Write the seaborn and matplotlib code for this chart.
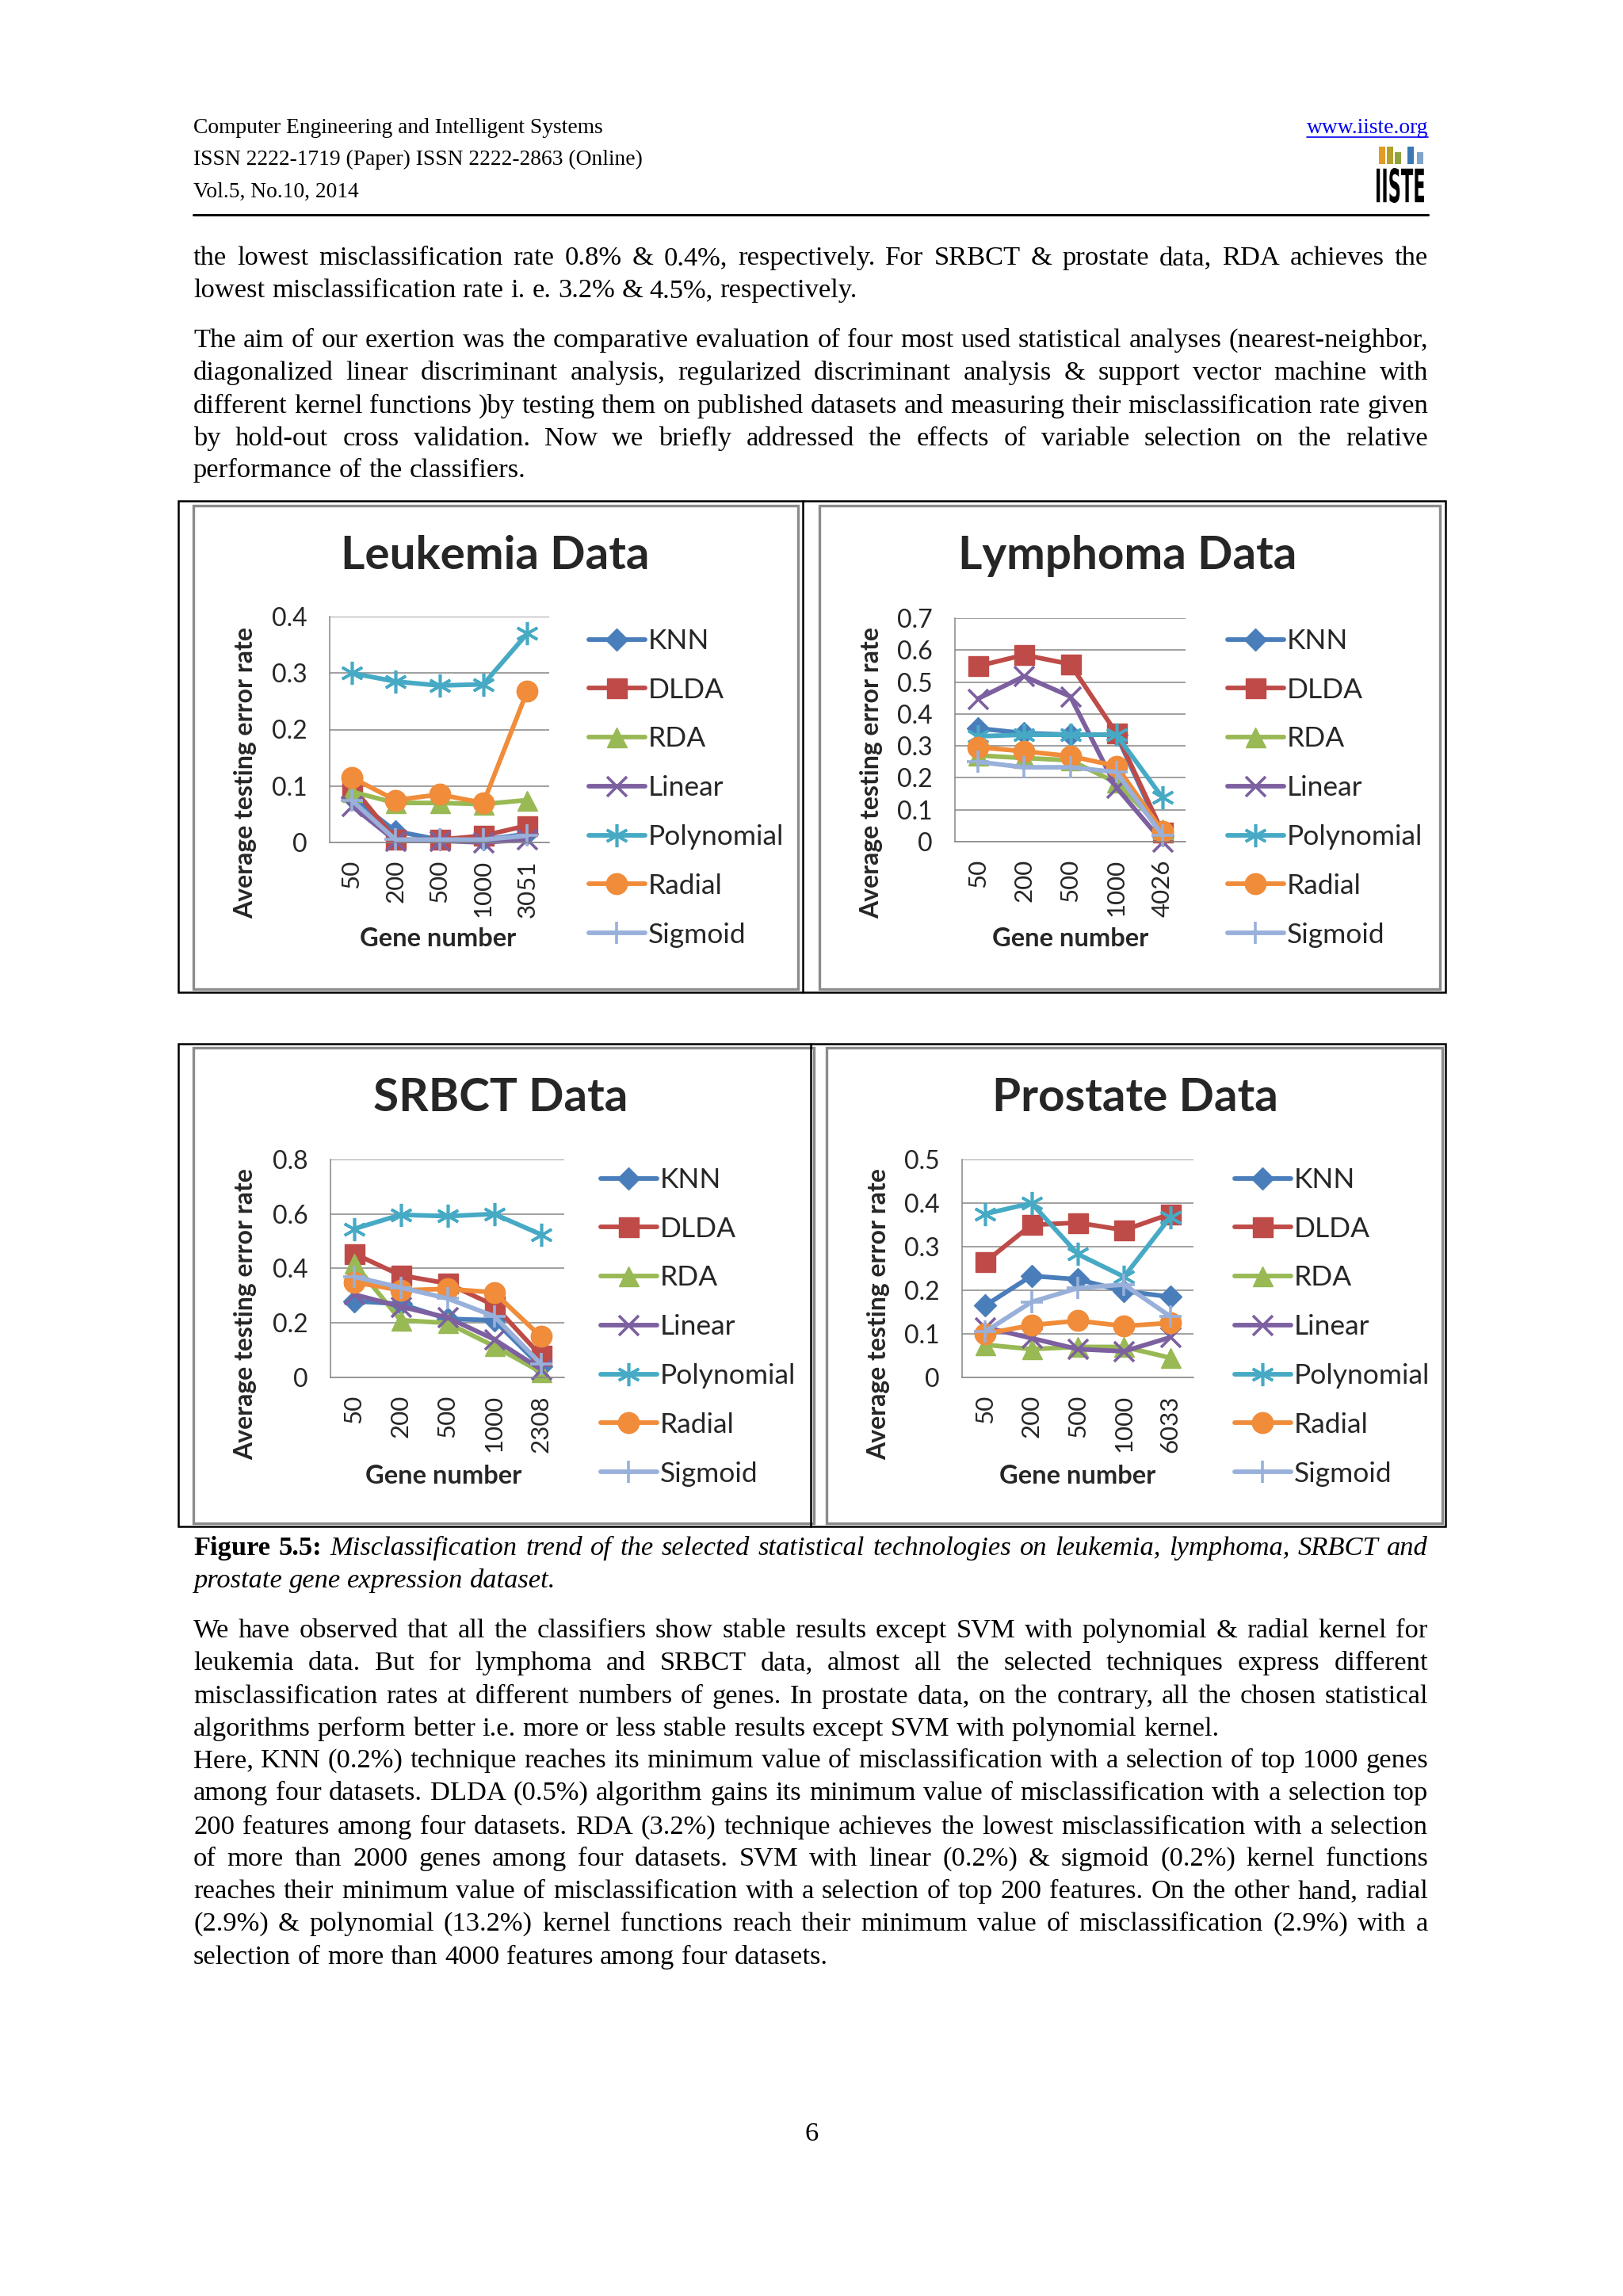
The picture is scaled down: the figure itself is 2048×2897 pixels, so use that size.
import numpy as np
import pandas as pd
import seaborn as sns
import matplotlib.pyplot as plt
from matplotlib.lines import Line2D
from matplotlib.patches import Rectangle, PathPatch
from matplotlib.textpath import TextPath
from matplotlib.font_manager import FontProperties
from matplotlib.transforms import Affine2D

sns.set_style("white")
plt.rcParams['font.family'] = ['Lato', 'DejaVu Sans']

W, H = 2048, 2897

# ---------------- data ----------------
methods = ['KNN', 'DLDA', 'RDA', 'Linear', 'Polynomial', 'Radial', 'Sigmoid']

genes_leukemia = ['50', '200', '500', '1000', '3051']
genes_lymphoma = ['50', '200', '500', '1000', '4026']
genes_srbct = ['50', '200', '500', '1000', '2308']
genes_prostate = ['50', '200', '500', '1000', '6033']

leukemia = {
    'KNN': [0.08, 0.02, 0.005, 0.005, 0.015],
    'DLDA': [0.10, 0.005, 0.005, 0.012, 0.03],
    'RDA': [0.09, 0.07, 0.07, 0.068, 0.075],
    'Linear': [0.065, 0.003, 0.003, 0.0, 0.005],
    'Polynomial': [0.30, 0.285, 0.278, 0.28, 0.37],
    'Radial': [0.115, 0.075, 0.085, 0.07, 0.268],
    'Sigmoid': [0.075, 0.005, 0.005, 0.005, 0.012],
}
lymphoma = {
    'KNN': [0.355, 0.34, 0.335, 0.335, 0.02],
    'DLDA': [0.55, 0.585, 0.556, 0.34, 0.03],
    'RDA': [0.27, 0.262, 0.255, 0.185, 0.04],
    'Linear': [0.448, 0.518, 0.455, 0.17, 0.0],
    'Polynomial': [0.33, 0.335, 0.335, 0.335, 0.138],
    'Radial': [0.296, 0.283, 0.268, 0.237, 0.033],
    'Sigmoid': [0.25, 0.233, 0.233, 0.218, 0.02],
}
srbct = {
    'KNN': [0.28, 0.27, 0.215, 0.21, 0.04],
    'DLDA': [0.455, 0.375, 0.345, 0.265, 0.08],
    'RDA': [0.42, 0.21, 0.2, 0.115, 0.02],
    'Linear': [0.305, 0.26, 0.22, 0.14, 0.03],
    'Polynomial': [0.545, 0.597, 0.592, 0.6, 0.525],
    'Radial': [0.35, 0.32, 0.325, 0.312, 0.15],
    'Sigmoid': [0.37, 0.33, 0.29, 0.225, 0.05],
}
prostate = {
    'KNN': [0.165, 0.233, 0.225, 0.198, 0.185],
    'DLDA': [0.265, 0.35, 0.355, 0.338, 0.375],
    'RDA': [0.075, 0.065, 0.07, 0.07, 0.045],
    'Linear': [0.115, 0.09, 0.065, 0.06, 0.092],
    'Polynomial': [0.375, 0.4, 0.283, 0.231, 0.368],
    'Radial': [0.1, 0.12, 0.13, 0.118, 0.125],
    'Sigmoid': [0.105, 0.173, 0.205, 0.213, 0.14],
}

colors = {'KNN': '#4A7EBB', 'DLDA': '#BE4B48', 'RDA': '#98B954', 'Linear': '#7D60A0',
          'Polynomial': '#46AAC5', 'Radial': '#F08C3A', 'Sigmoid': '#98B0DA'}
markers = {'KNN': 'D', 'DLDA': 's', 'RDA': '^', 'Linear': 'x',
           'Polynomial': (6, 2, 0), 'Radial': 'o', 'Sigmoid': '+'}
msizes = {'KNN': 14, 'DLDA': 18, 'RDA': 18, 'Linear': 18,
          'Polynomial': 21, 'Radial': 19, 'Sigmoid': 20}
filled = ('KNN', 'DLDA', 'RDA', 'Radial')

# page text
header_lines = ["Computer Engineering and Intelligent Systems",
                "ISSN 2222-1719 (Paper) ISSN 2222-2863 (Online)",
                "Vol.5, No.10, 2014"]
para1 = ["the lowest misclassification rate 0.8% & 0.4%, respectively. For SRBCT & prostate data, RDA achieves the",
         "lowest misclassification rate i. e. 3.2% & 4.5%, respectively."]
para2 = ["The aim of our exertion was the comparative evaluation of four most used statistical analyses (nearest-neighbor,",
         "diagonalized linear discriminant analysis, regularized discriminant analysis & support vector machine with",
         "different kernel functions )by testing them on published datasets and measuring their misclassification rate given",
         "by hold-out cross validation. Now we briefly addressed the effects of variable selection on the relative",
         "performance of the classifiers."]
caption = ["Misclassification trend of the selected statistical technologies on leukemia, lymphoma, SRBCT and",
           "prostate gene expression dataset."]
para3 = ["We have observed that all the classifiers show stable results except SVM with polynomial & radial kernel for",
         "leukemia data. But for lymphoma and SRBCT data, almost all the selected techniques express different",
         "misclassification rates at different numbers of genes. In prostate data, on the contrary, all the chosen statistical",
         "algorithms perform better i.e. more or less stable results except SVM with polynomial kernel.",
         "Here, KNN (0.2%) technique reaches its minimum value of misclassification with a selection of top 1000 genes",
         "among four datasets. DLDA (0.5%) algorithm gains its minimum value of misclassification with a selection top",
         "200 features among four datasets. RDA (3.2%) technique achieves the lowest misclassification with a selection",
         "of more than 2000 genes among four datasets. SVM with linear (0.2%) & sigmoid (0.2%) kernel functions",
         "reaches their minimum value of misclassification with a selection of top 200 features. On the other hand, radial",
         "(2.9%) & polynomial (13.2%) kernel functions reach their minimum value of misclassification (2.9%) with a",
         "selection of more than 4000 features among four datasets."]

# ---------------- figure ----------------
fig = plt.figure(figsize=(W / 100, H / 100), dpi=100)
fig.patch.set_facecolor('white')
bg = fig.add_axes([0, 0, 1, 1], zorder=0)
bg.set_xlim(0, W)
bg.set_ylim(H, 0)
bg.axis('off')
renderer = fig.canvas.get_renderer()


def px_rect(x0, y0, x1, y1):
    return [x0 / W, 1 - y1 / H, (x1 - x0) / W, (y1 - y0) / H]


BODY = 24.8
serif = dict(family='Liberation Serif', fontsize=BODY, color='black')
LEFT, RIGHT = 244, 1802


def width_of(s, style):
    t = bg.text(0, 0, s, **style)
    w = t.get_window_extent(renderer).width
    t.remove()
    return w


def put_line(words, y, justify):
    # words: list of (text, style)
    arts = [bg.text(0, y + 11, w, va='baseline', ha='left', **st) for w, st in words]
    widths = [a.get_window_extent(renderer).width for a in arts]
    st = words[0][1]
    space = width_of('a a', st) - width_of('aa', st)
    gap = space
    if justify and len(arts) > 1:
        gap = max(space * 0.6, (RIGHT - LEFT - sum(widths)) / (len(arts) - 1))
    x = LEFT
    for a, w in zip(arts, widths):
        a.set_x(x)
        x += w + gap


def put_para(lines, ys, no_justify=()):
    for i, (line, y) in enumerate(zip(lines, ys)):
        put_line([(w, serif) for w in line.split()], y, i not in no_justify and i != len(lines) - 1)


# header
hdr = dict(family='Liberation Serif', fontsize=19.8, color='black')
for line, y in zip(header_lines, [161, 201, 242]):
    bg.text(LEFT, y, line, va='center', ha='left', **hdr)
lnk = bg.text(RIGHT, 161, 'www.iiste.org', va='center', ha='right',
              family='Liberation Serif', fontsize=19.8, color='#0000EE')
lw_ = lnk.get_window_extent(renderer).width
bg.plot([RIGHT - lw_, RIGHT], [173, 173], color='#0000EE', lw=1.2)
bg.plot([LEFT, RIGHT], [271, 271], color='black', lw=2.2)
# logo
for x0, c, h in [(1740, '#E39B25', 22), (1750, '#B3A12C', 22), (1760, '#8EA33C', 15),
                 (1776, '#3C78B4', 22), (1788, '#7FA3C9', 15)]:
    bg.add_patch(Rectangle((x0, 207 - h), 8, h, color=c, lw=0))
tp = TextPath((0, 0), 'IISTE', size=30, prop=FontProperties(family='Liberation Sans Narrow', weight='bold'))
ext = tp.get_extents()
tr = Affine2D().translate(-ext.x0, -ext.y0).scale(60 / ext.width, -44 / ext.height).translate(1737, 256)
bg.add_patch(PathPatch(tr.transform_path(tp), color='black', lw=0))

put_para(para1, [323, 364])
put_para(para2, [427, 468, 510, 551, 591])

cap_b = dict(family='Liberation Serif', fontsize=BODY, fontweight='bold', color='black')
cap_i = dict(family='Liberation Serif', fontsize=BODY, fontstyle='italic', color='black')
put_line([('Figure', cap_b), ('5.5:', cap_b)] + [(w, cap_i) for w in caption[0].split()], 1951, True)
put_line([(w, cap_i) for w in caption[1].split()], 1992, False)

put_para(para3, [2055, 2096, 2138, 2179, 2219, 2260, 2303, 2343, 2384, 2425, 2467], no_justify=(3,))
bg.text(1024, 2693, '6', ha='center', va='center', **serif)

# table frames
for (x0, y0, x1, y1, xd) in [(225, 632, 1824, 1252, 1013), (225, 1317, 1824, 1926, 1023)]:
    bg.add_patch(Rectangle((x0, y0), x1 - x0, y1 - y0, fill=False, ec='black', lw=1.8))
    bg.plot([xd, xd], [y0, y1], color='black', lw=1.8)
for (x0, y0, x1, y1) in [(244, 638, 1007, 1248), (1034, 638, 1817, 1248),
                         (244, 1322, 1027, 1922), (1043, 1322, 1820, 1922)]:
    bg.add_patch(Rectangle((x0, y0), x1 - x0, y1 - y0, fill=False, ec='#8C8C8C', lw=2.4))


def draw_chart(title, title_xy, rect, genes, values, ymax, ystep, ylab_xy, xlab_xy, leg_xy):
    ax = fig.add_axes(px_rect(*rect), zorder=2)
    ax.patch.set_alpha(0)
    for m in methods:
        sns.lineplot(x=genes, y=values[m], ax=ax, color=colors[m], linewidth=4.2,
                     marker=markers[m], markersize=msizes[m], markeredgecolor=colors[m],
                     markeredgewidth=1 if m in filled else 2.6, clip_on=False, sort=False)
    ax.set_xlim(-0.5, len(genes) - 0.5)
    ax.set_ylim(0, ymax)
    ticks = np.round(np.arange(0, ymax + 1e-9, ystep), 2)
    ax.set_yticks(ticks)
    ax.set_yticklabels([f'{t:g}' for t in ticks])
    ax.yaxis.grid(True, color='#868686', lw=1.1)
    ax.xaxis.grid(False)
    ax.set_axisbelow(True)
    for s in ('top', 'right'):
        ax.spines[s].set_visible(False)
    for s in ('left', 'bottom'):
        ax.spines[s].set_color('#868686')
        ax.spines[s].set_linewidth(1.1)
    ax.tick_params(axis='y', length=8.6, width=1.1, color='#868686', pad=12, labelsize=23)
    ax.tick_params(axis='x', length=0, pad=16, labelsize=22.5, rotation=90)
    for lb in ax.get_xticklabels():
        lb.set_va('top')
    ax.set_xlabel('')
    ax.set_ylabel('')

    bg.text(*title_xy, title, ha='center', va='center', fontsize=42, fontweight='bold')
    bg.text(*ylab_xy, 'Average testing error rate', rotation=90, ha='center', va='center',
            fontsize=23, fontweight='bold')
    bg.text(*xlab_xy, 'Gene number', ha='center', va='center', fontsize=23.5, fontweight='bold')

    handles = [Line2D([], [], color=colors[m], lw=4.2, marker=markers[m], markersize=msizes[m],
                      markeredgecolor=colors[m], markeredgewidth=1 if m in filled else 2.6)
               for m in methods]
    ax.legend(handles, methods, loc='upper left', bbox_to_anchor=leg_xy, bbox_transform=bg.transData,
              frameon=False, fontsize=25.5, numpoints=1, handlelength=2.0, handletextpad=0.1,
              labelspacing=0.84, borderpad=0, borderaxespad=0)
    return ax


draw_chart('Leukemia Data', (625, 702), (416, 778, 693, 1063), genes_leukemia, leukemia,
           0.4, 0.1, (310, 975), (553, 1185), (743, 793))
draw_chart('Lymphoma Data', (1423, 702), (1205, 780, 1496, 1062), genes_lymphoma, lymphoma,
           0.7, 0.1, (1100, 975), (1351, 1185), (1549, 793))
draw_chart('SRBCT Data', (632, 1386), (417, 1463, 712, 1738), genes_srbct, srbct,
           0.8, 0.2, (310, 1658), (560, 1863), (758, 1473))
draw_chart('Prostate Data', (1432, 1386), (1214, 1463, 1506, 1738), genes_prostate, prostate,
           0.5, 0.1, (1109, 1658), (1360, 1863), (1558, 1473))

fig.savefig('out.png', dpi=100, facecolor='white')
